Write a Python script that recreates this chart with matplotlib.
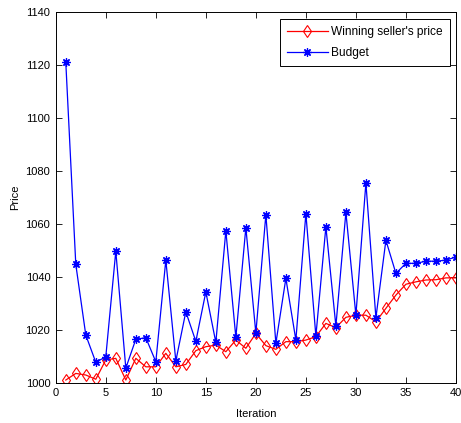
import matplotlib.pyplot as plt

plt.rcParams.update({
    "font.family": ["Liberation Sans", "DejaVu Sans"],
    "font.size": 8,
})

iteration = list(range(1, 41))
seller_price = [
    1001.0, 1003.5, 1002.9, 1001.3, 1008.6, 1009.2, 1001.0, 1009.2, 1006.0, 1006.0,
    1011.1, 1006.0, 1006.9, 1012.1, 1013.6, 1014.2, 1011.7, 1016.1, 1013.0, 1018.6,
    1014.0, 1012.6, 1015.5, 1015.5, 1016.1, 1017.4, 1022.4, 1020.8, 1024.7, 1025.5,
    1025.5, 1023.0, 1028.1, 1033.1, 1037.2, 1038.1, 1038.8, 1038.9, 1039.6, 1039.6,
]
budget = [
    1121.1, 1044.7, 1018.0, 1007.7, 1009.8, 1049.7, 1005.5, 1016.4, 1017.0, 1007.9,
    1046.3, 1008.2, 1026.8, 1015.6, 1034.3, 1015.2, 1057.4, 1017.1, 1058.6, 1018.7,
    1063.5, 1014.9, 1039.4, 1016.1, 1063.9, 1017.6, 1058.9, 1021.4, 1064.4, 1025.5,
    1075.5, 1024.5, 1053.8, 1041.3, 1045.1, 1045.1, 1045.9, 1045.9, 1046.3, 1047.5,
]

fig = plt.figure(figsize=(4.61, 4.23), dpi=100)
ax = fig.add_axes([0.121, 0.0953, 0.868, 0.876])

# hollow thin diamonds for the seller, 8-arm asterisks for the budget
ax.plot(iteration, seller_price, color="red", lw=0.9, marker="d",
        markersize=6.5, markerfacecolor="none", markeredgecolor="red",
        markeredgewidth=0.8, label="Winning seller's price")
ax.plot(iteration, budget, color="blue", lw=0.9, marker=(8, 2, 0),
        markersize=6, markeredgewidth=0.9, label="Budget")

ax.set_xlim(0, 40)
ax.set_ylim(1000, 1140)
ax.set_xticks(range(0, 41, 5))
ax.set_yticks(range(1000, 1141, 20))
ax.tick_params(direction="in", top=True, right=True, length=4, width=0.6,
               labelsize=8, pad=4)
for s in ax.spines.values():
    s.set_linewidth(0.7)

ax.set_xlabel("Iteration", fontsize=8, labelpad=8)
ax.set_ylabel("Price", fontsize=8, labelpad=4)

leg = ax.legend(loc="upper right", bbox_to_anchor=(0.985, 0.981),
                fontsize=8.6, fancybox=False, framealpha=1, edgecolor="black",
                handlelength=3.4, borderpad=0.6, labelspacing=0.75,
                handletextpad=0.3, borderaxespad=0)
leg.get_frame().set_linewidth(0.7)

fig.savefig("out.png", dpi=100)
